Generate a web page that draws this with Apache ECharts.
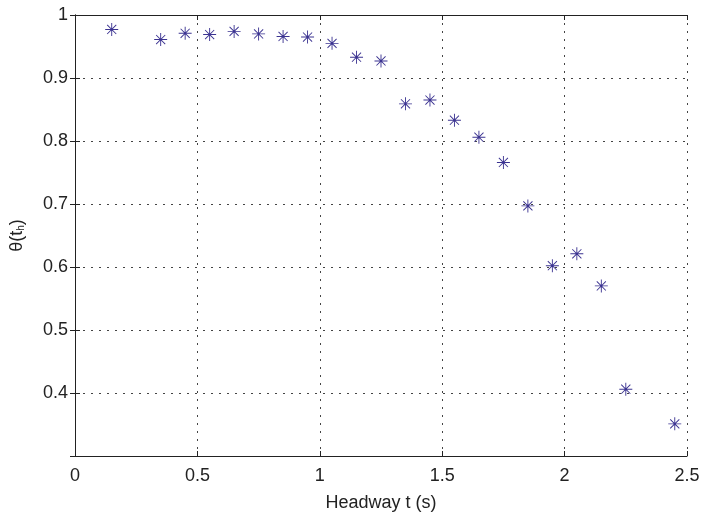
<!DOCTYPE html>
<html>
<head>
<meta charset="utf-8">
<script src="https://cdn.jsdelivr.net/npm/echarts@6/dist/echarts.min.js"></script>
<style>html,body{margin:0;padding:0;background:#fff}#c{width:703px;height:517px}</style>
</head>
<body>
<div id="c"></div>
<script>
var headway = [0.15, 0.35, 0.45, 0.55, 0.65, 0.75, 0.85, 0.95, 1.05, 1.15, 1.25, 1.35, 1.45, 1.55, 1.65, 1.75, 1.85, 1.95, 2.05, 2.15, 2.25, 2.45];
var theta = [0.977, 0.961, 0.971, 0.969, 0.974, 0.970, 0.966, 0.965, 0.955, 0.933, 0.927, 0.859, 0.865, 0.833, 0.806, 0.766, 0.697, 0.602, 0.621, 0.570, 0.406, 0.351];
var xTicks = [0, 0.5, 1, 1.5, 2, 2.5];
var yTicks = [0.4, 0.5, 0.6, 0.7, 0.8, 0.9, 1];

var star = 'path://M-0.7,-10 L0.7,-10 L0.7,10 L-0.7,10 Z M-10,-0.7 L10,-0.7 L10,0.7 L-10,0.7 Z M-6.5,-7.5 L7.5,6.5 L6.5,7.5 L-7.5,-6.5 Z M6.5,-7.5 L7.5,-6.5 L-6.5,7.5 L-7.5,6.5 Z';

var font = 'Liberation Sans';
var frame = {show: true, lineStyle: {color: '#222', width: 1}};
var grid = {show: true, lineStyle: {color: '#444', width: 1, type: [2, 6]}};
var chart = echarts.init(document.getElementById('c'), null, {renderer: 'canvas'});
chart.setOption({
  animation: false,
  backgroundColor: '#fff',
  grid: {left: 75, top: 15, right: 16, bottom: 58, containLabel: false},
  xAxis: [{
    type: 'value', min: 0, max: 2.5, interval: 0.5, position: 'bottom',
    axisLine: frame,
    axisTick: {show: true, inside: true, length: 5, lineStyle: {color: '#222'}},
    splitLine: grid,
    axisLabel: {color: '#222', fontFamily: font, fontSize: 18, margin: 11,
      formatter: function (v) { return xTicks.indexOf(v) >= 0 ? String(v) : ''; }},
    name: 'Headway t (s)', nameLocation: 'middle', nameGap: 38,
    nameTextStyle: {color: '#222', fontFamily: font, fontSize: 18}
  }, {
    type: 'value', min: 0, max: 2.5, interval: 0.5, position: 'top',
    axisLine: frame,
    axisTick: {show: true, inside: true, length: 5, lineStyle: {color: '#222'}},
    splitLine: {show: false}, axisLabel: {show: false}
  }],
  yAxis: [{
    type: 'value', min: 0.3, max: 1, interval: 0.1, position: 'left',
    axisLine: frame,
    axisTick: {show: true, inside: true, length: 5, lineStyle: {color: '#222'}},
    splitLine: grid,
    axisLabel: {color: '#222', fontFamily: font, fontSize: 18, margin: 7,
      formatter: function (v) {
        var r = Math.round(v * 10) / 10;
        return yTicks.indexOf(r) >= 0 ? String(r) : '';
      }},
    name: 'θ(t{s|h})', nameLocation: 'middle', nameGap: 49, nameRotate: 90,
    nameTextStyle: {color: '#222', fontFamily: font, fontSize: 18,
      rich: {s: {fontSize: 10, fontFamily: font, color: '#222', verticalAlign: 'bottom', padding: [6, 0, 0, 0]}}}
  }, {
    type: 'value', min: 0.3, max: 1, interval: 0.1, position: 'right',
    axisLine: frame,
    axisTick: {show: true, inside: true, length: 5, lineStyle: {color: '#222'}},
    splitLine: {show: false}, axisLabel: {show: false}
  }],
  series: [{
    type: 'scatter',
    xAxisIndex: 0, yAxisIndex: 0,
    data: headway.map(function (x, i) { return [x, theta[i]]; }),
    symbol: star,
    symbolSize: 13,
    itemStyle: {color: '#3b3391', opacity: 1}
  }]
});
</script>
</body>
</html>
